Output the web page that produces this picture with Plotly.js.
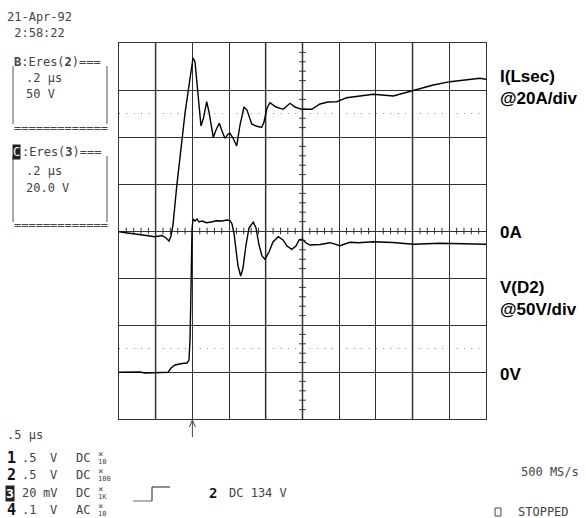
<!DOCTYPE html>
<html>
<head>
<meta charset="utf-8">
<script src="https://cdn.plot.ly/plotly-3.0.1.min.js"></script>
<style>html,body{margin:0;padding:0;background:#fff;}#chart{width:586px;height:518px;}</style>
</head>
<body>
<div id="chart"></div>
<script>
// Time axis in divisions (0.2 us/div), amplitude in divisions (0..8)
const currentX = [0,0.572,0.981,1.172,1.281,1.362,1.417,1.471,1.572,1.798,1.935,2.016,2.071,2.125,2.180,2.234,2.302,2.390,2.452,2.569,2.643,2.733,2.807,2.888,2.970,3.025,3.106,3.207,3.297,3.406,3.488,3.616,3.733,3.888,3.951,4.033,4.114,4.278,4.477,4.659,4.796,4.978,5.251,5.477,5.695,5.932,6.204,6.520,6.929,7.474,7.975,8.564,9.019,9.564,9.837,10];
const currentY = [3.985,3.926,3.879,3.904,3.851,3.787,3.894,4.128,4.943,6.504,7.319,7.681,7.596,7.106,6.574,6.234,6.404,6.751,6.532,5.994,6.149,6.291,6.128,5.972,6.064,6.079,5.979,5.809,6.255,6.638,6.574,6.277,6.234,6.206,6.319,6.617,6.730,6.638,6.589,6.717,6.638,6.589,6.589,6.702,6.745,6.751,6.836,6.872,6.909,6.872,6.979,7.106,7.177,7.234,7.249,7.228];

const voltageX = [0,0.572,0.708,0.981,1.335,1.417,1.526,1.717,1.853,1.907,1.935,1.962,1.989,2.016,2.071,2.125,2.180,2.262,2.390,2.507,2.662,2.807,2.935,3.025,3.079,3.134,3.188,3.243,3.316,3.379,3.460,3.542,3.659,3.733,3.815,3.896,3.978,4.087,4.196,4.341,4.469,4.578,4.706,4.823,4.905,4.995,5.095,5.204,5.477,5.749,6.022,6.294,6.520,6.929,7.466,8.019,8.747,9.428,10];
const voltageY = [0.994,1.0,0.979,0.989,0.994,1.085,1.149,1.181,1.191,1.255,1.681,2.745,4.021,4.255,4.213,4.255,4.191,4.213,4.177,4.191,4.219,4.213,4.234,4.223,4.149,3.951,3.596,3.255,3.043,3.213,3.702,4.064,4.191,4.064,3.702,3.468,3.398,3.553,3.766,3.879,3.809,3.681,3.611,3.681,3.809,3.823,3.745,3.702,3.713,3.751,3.687,3.760,3.751,3.772,3.755,3.717,3.738,3.723,3.717];

const traceLabels = ["I(Lsec)", "@20A/div", "0A", "V(D2)", "@50V/div", "0V"];
const channelNums = ["1", "2", "3", "4"];
const channelValues = [".5", ".5", "20", ".1"];
const channelUnits = ["V", "V", "mV", "V"];
const channelCoupling = ["DC", "DC", "DC", "AC"];
const channelProbe = ["10", "100", "1K", "10"];
const triggerPos = 2; // trigger arrow position, divisions

const W = 586, H = 518, L = 119, T = 43, PW = 367, PH = 376;
function px(x){ return (x - L) / PW; }
function py(y){ return (T + PH - y) / PH; }

const mono = "DejaVu Sans Mono, Liberation Mono, monospace";
const txtCol = "#444";
const annotations = [];
function txt(text, x, y, size, opts){
  annotations.push(Object.assign({
    text: text, xref: "paper", yref: "paper", x: px(x), y: py(y),
    xanchor: "left", yanchor: "middle", showarrow: false,
    font: {family: mono, size: size || 11, color: txtCol}
  }, opts || {}));
}

// header
txt("21-Apr-92", 5, 17, 12);
txt(" 2:58:22", 5, 33, 12);
// box B
txt("<b>B</b>:Eres(<b>2</b>)===", 12, 62, 12);
txt(".2 µs", 24, 78, 12);
txt("50 V", 24, 94, 12);
txt("=============", 12, 128, 12);
// box C
txt("C", 12, 152, 12, {bgcolor: "#222", font: {family: mono, size: 12, color: "#fff"}, borderpad: 0});
txt(":Eres(<b>3</b>)===", 20, 152, 12);
txt(".2 µs", 24, 171, 12);
txt("20.0 V", 24, 188, 12);
txt("=============", 12, 225, 12);

// right trace labels
const labelY = [76, 98, 232, 287, 309, 374];
const sans = "Liberation Sans, Arial, sans-serif";
traceLabels.forEach((t, i) => {
  annotations.push({text: "<b>" + t + "</b>", xref: "paper", yref: "paper", x: px(498), y: py(labelY[i]),
    xanchor: "left", yanchor: "middle", showarrow: false,
    font: {family: sans, size: 17, color: "#000"}});
});

// bottom status
txt(".5 µs", 5, 435, 12);
const rowY = [458, 475, 493, 510];
channelNums.forEach((n, i) => {
  if (i === 2) {
    txt("<b>" + n + "</b>", 5, rowY[i], 13, {bgcolor: "#222", font: {family: mono, size: 13, color: "#fff"}, borderpad: 0});
  } else {
    txt("<b>" + n + "</b>", 5, rowY[i], 15, {font: {family: mono, size: 15, color: "#111"}});
  }
  txt(channelValues[i], 20, rowY[i], 12);
  txt(channelUnits[i], 59, rowY[i], 12, {xanchor: "right"});
  txt(channelCoupling[i], 74, rowY[i], 12);
  txt("×", 96, rowY[i] - 4, 9);
  txt(channelProbe[i], 96, rowY[i] + 4, 7);
});
txt("<b>2</b>", 207, 493, 14, {font: {family: mono, size: 14, color: "#111"}});
txt("DC 134 V", 227, 493, 12);
txt("500 MS/s", 581, 472, 12, {xanchor: "right"});
txt("STOPPED", 516, 512, 12);

// shapes
const shapes = [];
function pline(x0, y0, x1, y1, col, w){
  shapes.push({type: "line", xref: "paper", yref: "paper", x0: px(x0), y0: py(y0), x1: px(x1), y1: py(y1),
    line: {color: col || "#555", width: w || 1}});
}
// box borders
pline(13, 66, 13, 124); pline(107, 66, 107, 124);
pline(13, 156, 13, 222); pline(107, 156, 107, 222);
// stopped square
shapes.push({type: "rect", xref: "paper", yref: "paper", x0: px(495), x1: px(501), y0: py(508), y1: py(516),
  line: {color: "#444", width: 1}});
// trigger step symbol
pline(133, 501, 152, 501, "#999", 1.5);
pline(152, 501, 152, 487, "#444", 1.2);
pline(152, 487, 170, 487, "#444", 1.2);

// trigger arrow below plot at trigger position
const trigPx = L + triggerPos * PW / 10;
pline(trigPx, 420, trigPx, 437, "#444", 1);
pline(trigPx - 3, 427, trigPx, 420, "#444", 1);
pline(trigPx + 3, 427, trigPx, 420, "#444", 1);

// lighter grid columns
[1, 4, 5, 8].forEach(c => {
  shapes.push({type: "line", xref: "x", yref: "y", x0: c, x1: c, y0: 0, y1: 8, layer: "below",
    line: {color: "#9a9a9a", width: 2}});
});
// dotted lines
[1.5, 6.5].forEach(v => {
  shapes.push({type: "line", xref: "x", yref: "y", x0: 0, x1: 10, y0: v, y1: v, layer: "below",
    line: {color: "#888", width: 1, dash: "1px,6.34px"}});
});
// minor ticks on centre lines
const dyTick = 3.3 / (PH / 8), dxTick = 3.3 / (PW / 10);
for (let i = 1; i < 50; i++) {
  if (i % 5 === 0) continue;
  const x = i * 0.2;
  shapes.push({type: "line", xref: "x", yref: "y", x0: x, x1: x, y0: 4 - dyTick, y1: 4 + dyTick,
    line: {color: "#333", width: 1}});
}
for (let j = 1; j < 40; j++) {
  if (j % 5 === 0) continue;
  const y = j * 0.2;
  shapes.push({type: "line", xref: "x", yref: "y", x0: 5 - dxTick, x1: 5 + dxTick, y0: y, y1: y,
    line: {color: "#333", width: 1}});
}

const data = [
  {x: currentX, y: currentY, type: "scatter", mode: "lines", line: {color: "#000", width: 1.4}, hoverinfo: "skip"},
  {x: voltageX, y: voltageY, type: "scatter", mode: "lines", line: {color: "#000", width: 1.4}, hoverinfo: "skip"}
];

const layout = {
  width: W, height: H,
  margin: {l: L, r: W - L - PW, t: T, b: H - T - PH, pad: 0},
  paper_bgcolor: "#fff", plot_bgcolor: "#fff",
  showlegend: false,
  xaxis: {range: [0, 10], dtick: 1, tick0: 0, showgrid: true, gridcolor: "#333", gridwidth: 1,
    showline: true, mirror: true, linecolor: "#333", linewidth: 1, showticklabels: false, ticks: "",
    zeroline: false, fixedrange: true},
  yaxis: {range: [0, 8], dtick: 1, tick0: 0, showgrid: true, gridcolor: "#333", gridwidth: 1,
    showline: true, mirror: true, linecolor: "#333", linewidth: 1, showticklabels: false, ticks: "",
    zeroline: false, fixedrange: true},
  shapes: shapes,
  annotations: annotations
};

Plotly.newPlot("chart", data, layout, {staticPlot: true, displayModeBar: false});
</script>
</body>
</html>
